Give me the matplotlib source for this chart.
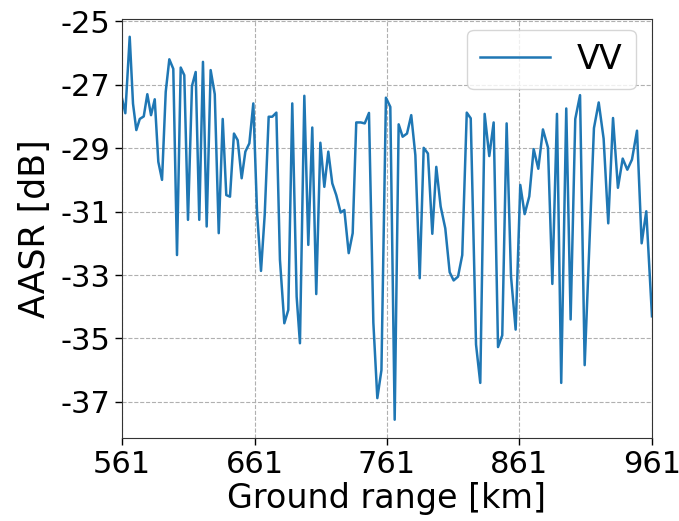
import numpy as np
import matplotlib
matplotlib.use("Agg")
import matplotlib.pyplot as plt

# ground range [km] and AASR [dB]
ground_range = [561.0, 563.5, 566.8, 569.3, 571.8, 574.4, 577.4, 580.1, 582.9, 585.7,
                588.4, 591.2, 594.0, 596.7, 599.7, 602.5, 605.3, 608.0, 610.8, 613.8,
                616.6, 619.3, 622.1, 624.9, 627.9, 631.0, 634.0, 637.0, 639.7, 642.5,
                645.5, 648.3, 651.3, 654.1, 657.1, 660.1, 662.9, 665.9, 668.7, 671.7,
                674.4, 677.5, 680.2, 683.5, 686.5, 689.5, 692.8, 695.3, 698.6, 701.6,
                704.6, 707.6, 710.7, 713.7, 716.7, 719.7, 722.7, 726.0, 728.8, 732.1,
                735.1, 737.8, 741.2, 744.2, 747.4, 750.7, 753.7, 756.8, 760.2, 763.5,
                766.8, 769.8, 772.8, 776.1, 779.3, 782.4, 785.7, 788.7, 791.9, 795.2,
                798.2, 801.5, 805.0, 808.3, 811.3, 814.6, 817.8, 821.2, 824.2, 828.2,
                831.4, 834.7, 838.2, 841.5, 844.8, 848.0, 851.3, 854.6, 858.1, 861.6,
                864.9, 868.4, 871.7, 875.2, 878.7, 882.5, 885.8, 889.3, 892.5, 896.3,
                899.6, 903.1, 906.7, 910.2, 913.7, 917.2, 920.8, 924.5, 928.0, 931.6,
                935.3, 938.9, 942.4, 945.9, 949.7, 953.2, 956.7, 961.0]
aasr_vv = [-27.43, -27.90, -25.49, -27.60, -28.43, -28.08, -28.00, -27.30, -27.96, -27.46,
           -29.43, -30.00, -27.22, -26.20, -26.50, -32.37, -26.46, -26.70, -31.26, -27.04,
           -26.60, -31.26, -26.28, -31.47, -26.54, -27.30, -31.68, -28.08, -30.48, -30.53,
           -28.54, -28.75, -29.95, -29.11, -28.85, -27.59, -31.00, -32.87, -31.10, -28.01,
           -28.01, -27.88, -32.52, -34.52, -34.10, -27.59, -33.68, -35.15, -27.35, -32.05,
           -28.35, -33.60, -28.83, -30.22, -29.11, -30.11, -30.48, -31.03, -30.95, -32.31,
           -31.68, -28.19, -28.19, -28.22, -27.89, -34.50, -36.88, -36.00, -27.41, -27.70,
           -37.56, -28.25, -28.64, -28.54, -27.96, -29.22, -33.10, -28.99, -29.17, -31.70,
           -29.59, -30.84, -31.53, -32.91, -33.17, -33.05, -32.37, -27.88, -28.06, -35.19,
           -36.40, -27.92, -29.25, -28.19, -35.27, -34.90, -28.22, -33.04, -34.72, -30.16,
           -31.08, -30.52, -29.03, -29.65, -28.41, -28.98, -33.28, -27.92, -36.40, -27.75,
           -34.40, -28.08, -27.33, -35.84, -32.10, -28.37, -27.56, -28.70, -31.37, -28.05,
           -30.25, -29.33, -29.68, -29.36, -28.45, -32.00, -30.99, -34.30]

xticks = [561, 661, 761, 861, 961]
yticks = [-25, -27, -29, -31, -33, -35, -37]

fig = plt.figure(figsize=(6.79, 5.21), dpi=100)
ax = fig.add_axes([0.1797, 0.1585, 0.7805, 0.805])

ax.plot(ground_range, aasr_vv, color="#1f77b4", lw=1.8, label="VV")

ax.set_xlim(561, 961)
ax.set_ylim(-38.15, -24.93)
ax.set_xticks(xticks)
ax.set_xticklabels([str(t) for t in xticks])
ax.set_yticks(yticks)
ax.set_yticklabels([str(t) for t in yticks])
ax.tick_params(labelsize=22, length=5, width=1)
ax.grid(True, ls="--", color="#b0b0b0", lw=0.8)
for s in ax.spines.values():
    s.set_color("#333333")

ax.set_xlabel("Ground range [km]", fontsize=24, labelpad=2)
ax.set_ylabel("AASR [dB]", fontsize=25, labelpad=6)

ax.legend(loc="upper right", bbox_to_anchor=(0.97, 0.975), borderaxespad=0,
          fontsize=24, handlelength=2.1, framealpha=0.8, edgecolor="#cccccc")

fig.savefig("out.png", dpi=100)
